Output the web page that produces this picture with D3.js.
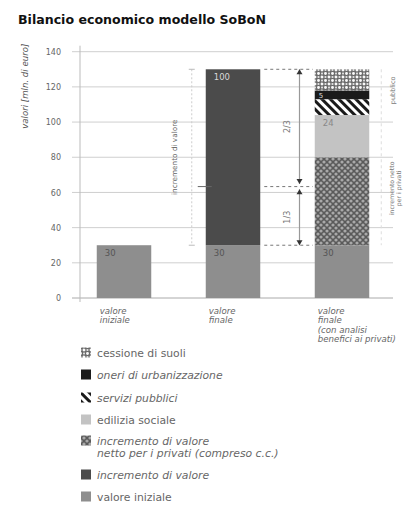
<!DOCTYPE html>
<html><head><meta charset="utf-8">
<script src="https://cdn.jsdelivr.net/npm/d3@7"></script>
<style>
body{margin:0;background:#fff;}
text{font-family:"DejaVu Sans",sans-serif;}
</style></head>
<body>
<svg id="c" width="411" height="507"></svg>
<script>
const categories = ["valore iniziale", "valore finale", "valore finale (con analisi benefici ai privati)"];
const categoryLines = [["valore","iniziale"],["valore","finale"],["valore","finale","(con analisi","benefici ai privati)"]];
const seriesNames = ["valore iniziale","incremento di valore","incremento di valore netto per i privati (compreso c.c.)","edilizia sociale","servizi pubblici","oneri di urbanizzazione","cessione di suoli"];
const valoreIniziale = [30, 30, 30];
const incrementoValore = [0, 100, 0];
const incrementoNetto = [0, 0, 50];
const ediliziaSociale = [0, 0, 24];
const serviziPubblici = [0, 0, 9];
const oneriUrbanizzazione = [0, 0, 5];
const cessioneSuoli = [0, 0, 12];
const yTicks = [0, 20, 40, 60, 80, 100, 120, 140];
const shareLabels = ["2/3", "1/3"];

const seriesKeys = ["vi","iv","in","es","sp","ou","cs"];
const seriesData = [valoreIniziale, incrementoValore, incrementoNetto, ediliziaSociale, serviziPubblici, oneriUrbanizzazione, cessioneSuoli];
const rows = categories.map((c,i)=>{const r={cat:c}; seriesKeys.forEach((k,j)=>r[k]=seriesData[j][i]); return r;});

const svg = d3.select("#c");
const defs = svg.append("defs");
// patterns
let p = defs.append("pattern").attr("id","pNet").attr("patternUnits","userSpaceOnUse").attr("width",6).attr("height",6);
p.append("rect").attr("width",6).attr("height",6).attr("fill","#5a5a5a");
[[0,0],[6,0],[0,6],[6,6],[3,3]].forEach(d=>p.append("circle").attr("cx",d[0]).attr("cy",d[1]).attr("r",1.6).attr("fill","#a9a9a9"));
p = defs.append("pattern").attr("id","pCes").attr("patternUnits","userSpaceOnUse").attr("width",7).attr("height",7);
p.append("rect").attr("width",7).attr("height",7).attr("fill","#fafafa");
[[0,0],[7,0],[0,7],[7,7],[3.5,3.5]].forEach(d=>p.append("circle").attr("cx",d[0]).attr("cy",d[1]).attr("r",2.1).attr("fill","none").attr("stroke","#6a6a6a").attr("stroke-width",1.3));
p = defs.append("pattern").attr("id","pSer").attr("patternUnits","userSpaceOnUse").attr("width",6).attr("height",6).attr("patternTransform","rotate(-45)");
p.append("rect").attr("width",6).attr("height",6).attr("fill","#ffffff");
p.append("rect").attr("width",3).attr("height",6).attr("fill","#1a1a1a");

const fills = {vi:"#8e8e8e", iv:"#4b4b4b", in:"url(#pNet)", es:"#c3c3c3", sp:"url(#pSer)", ou:"#1b1b1b", cs:"url(#pCes)"};

const y = d3.scaleLinear().domain([0,140]).range([298, 51.7]);
const x = d3.scaleBand().domain(categories).range([69.5, 396.5]).paddingInner(0.5).paddingOuter(0.25);

// title
svg.append("text").attr("x",18).attr("y",24).attr("font-size",12).attr("font-weight","900").attr("fill","#111")
  .attr("textLength",248).attr("lengthAdjust","spacingAndGlyphs")
  .text("Bilancio economico modello SoBoN");

// gridlines
svg.append("g").selectAll("line").data(yTicks).join("line")
  .attr("x1",72).attr("x2",393).attr("y1",d=>y(d)).attr("y2",d=>y(d))
  .attr("stroke",d=>d===0?"#aaa":"#cfcfcf").attr("stroke-width",1);
// axis
const yAxis = d3.axisLeft(y).tickValues(yTicks).tickSize(0).tickPadding(0);
const ga = svg.append("g").attr("transform","translate(61,0)").call(yAxis);
ga.select(".domain").remove();
ga.selectAll("text").attr("font-size",8).attr("fill","#666").attr("font-family","DejaVu Sans");
svg.append("line").attr("x1",80).attr("x2",80).attr("y1",y(140)-6).attr("y2",y(0)+4).attr("stroke","#bbb");
svg.append("text").attr("transform",`translate(28,${y(140)-8}) rotate(-90)`).attr("text-anchor","end")
  .attr("font-size",8.6).attr("font-style","italic").attr("fill","#555").text("valori [mln. di euro]");

// bars
const stack = d3.stack().keys(seriesKeys)(rows);
svg.append("g").selectAll("g").data(stack).join("g").attr("fill",s=>fills[s.key])
  .selectAll("rect").data(s=>s.filter(d=>d[1]-d[0]>0)).join("rect")
  .attr("x",d=>x(d.data.cat)).attr("width",x.bandwidth())
  .attr("y",d=>y(d[1])).attr("height",d=>y(d[0])-y(d[1]));

// value labels
const labelSpec = {vi:"#555", iv:"#d8d8d8", es:"#888", ou:"#ddd"};
stack.forEach(s=>{
  if(!labelSpec[s.key]) return;
  s.forEach(d=>{
    const v = d[1]-d[0]; if(v<=0) return;
    svg.append("text").attr("x",x(d.data.cat)+(s.key==="ou"?4:8)).attr("y",y(d[1])+(s.key==="ou"?7.5:11))
      .attr("font-size",s.key==="ou"?7:8.5).attr("fill",labelSpec[s.key]).text(v);
  });
});

// category labels
categoryLines.forEach((lines,i)=>{
  const t = svg.append("text").attr("x",x(categories[i])+3).attr("y",314).attr("font-size",8.6)
    .attr("font-style","italic").attr("fill","#666");
  lines.forEach((l,j)=>t.append("tspan").attr("x",x(categories[i])+3).attr("dy",j?9.4:0).text(l));
});

// annotations
const total = valoreIniziale[1]+incrementoValore[1];
const split = valoreIniziale[1] + incrementoValore[1]/3;
const x2r = x(categories[1])+x.bandwidth(), x3l = x(categories[2]);
[total, split, valoreIniziale[1]].forEach(v=>{
  svg.append("line").attr("x1",x2r+4).attr("x2",x3l-2).attr("y1",y(v)).attr("y2",y(v))
    .attr("stroke","#777").attr("stroke-dasharray","3,3").attr("stroke-width",1);
});
svg.append("line").attr("x1",x(categories[1])-8).attr("x2",x(categories[1])+6).attr("y1",y(split)).attr("y2",y(split)).attr("stroke","#666");
const ax = (x2r + x3l)/2 + 12;
const arrows = [[total, split+1.5],[split-1.5, valoreIniziale[1]]];
arrows.forEach((a,i)=>{
  const y1=y(a[0]), y2=y(a[1]);
  svg.append("line").attr("x1",ax).attr("x2",ax).attr("y1",y1).attr("y2",y2).attr("stroke","#999").attr("stroke-width",1.2);
  svg.append("path").attr("d",`M${ax-3},${y1+5}L${ax+3},${y1+5}L${ax},${y1}Z`).attr("fill","#333");
  svg.append("path").attr("d",`M${ax-3},${y2-5}L${ax+3},${y2-5}L${ax},${y2}Z`).attr("fill","#333");
  svg.append("text").attr("transform",`translate(${ax-10},${(y1+y2)/2}) rotate(-90)`).attr("text-anchor","middle")
    .attr("font-size",8).attr("fill","#777").text(shareLabels[i]);
});
// left bracket for bar 2
const lx = x(categories[1]) - 14;
svg.append("line").attr("x1",lx).attr("x2",lx).attr("y1",y(total)).attr("y2",y(valoreIniziale[1]))
  .attr("stroke","#ccc").attr("stroke-dasharray","2,2");
[total, valoreIniziale[1]].forEach(v=>svg.append("line").attr("x1",lx-3).attr("x2",lx+3).attr("y1",y(v)).attr("y2",y(v)).attr("stroke","#bbb"));
svg.append("text").attr("transform",`translate(${lx-15},${y((total+valoreIniziale[1])/2)}) rotate(-90)`).attr("text-anchor","middle")
  .attr("font-size",7.3).attr("fill","#666").text("incremento di valore");
// right side
const rx = x3l + x.bandwidth() + 12;
svg.append("line").attr("x1",rx).attr("x2",rx).attr("y1",y(total)).attr("y2",y(valoreIniziale[1]))
  .attr("stroke","#ddd").attr("stroke-dasharray","3,3");
svg.append("text").attr("transform",`translate(${rx+14},${y(total-12)}) rotate(-90)`).attr("text-anchor","middle")
  .attr("font-size",6.5).attr("fill","#777").text("pubblico");
const t2 = svg.append("text").attr("transform",`translate(${rx+13},${y(split-1)}) rotate(-90)`).attr("text-anchor","middle")
  .attr("font-size",6.2).attr("fill","#777");
t2.append("tspan").attr("x",0).text("incremento netto");
t2.append("tspan").attr("x",0).attr("dy",7).text("per i privati");

// legend
const legendItems = [
  {k:"cs", lines:[seriesNames[6]], it:false},
  {k:"ou", lines:[seriesNames[5]], it:true},
  {k:"sp", lines:[seriesNames[4]], it:true},
  {k:"es", lines:[seriesNames[3]], it:false},
  {k:"in", lines:["incremento di valore","netto per i privati (compreso c.c.)"], it:true},
  {k:"iv", lines:[seriesNames[1]], it:true},
  {k:"vi", lines:[seriesNames[0]], it:false}
];
const legendY = [353, 375, 398, 420, 441, 475, 497];
legendItems.forEach((d,i)=>{
  const cy = legendY[i];
  svg.append("rect").attr("x",81).attr("y",cy-5.5).attr("width",10).attr("height",10).attr("fill",fills[d.k]);
  d.lines.forEach((l,j)=>svg.append("text").attr("x",97).attr("y",cy+4+j*12).attr("font-size",10.8).attr("fill","#666")
    .attr("font-style",d.it?"italic":"normal").text(l));
});
</script>
</body></html>
